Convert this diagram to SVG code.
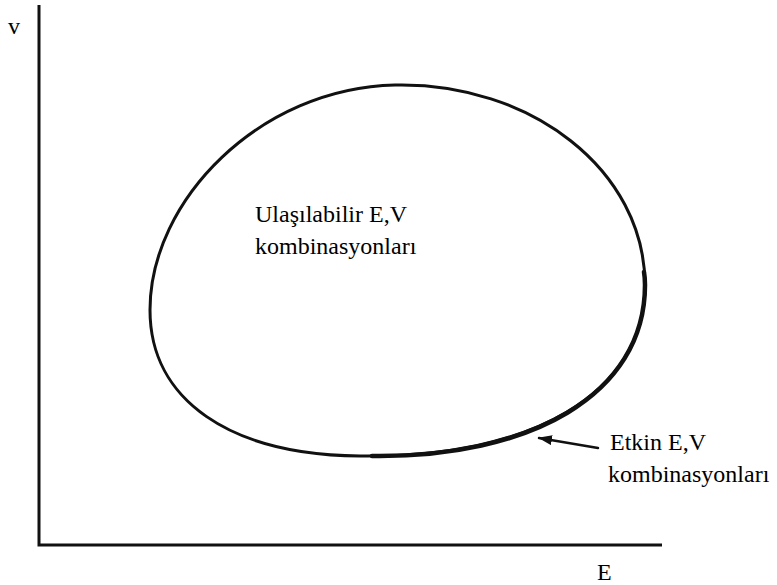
<svg xmlns="http://www.w3.org/2000/svg" width="777" height="585" viewBox="0 0 777 585">
<style>
.t{font-family:"Liberation Serif","Times New Roman",serif;font-size:24px;fill:#000}
.ax{stroke:#111;stroke-width:3;fill:none}
.ln{stroke:#111;fill:none;stroke-linecap:round}
</style>
<defs>
<marker id="ah" markerWidth="14" markerHeight="10" refX="13" refY="5" orient="auto" markerUnits="userSpaceOnUse">
<path d="M0,0 L14,5 L0,10 Z" fill="#111"/>
</marker>
</defs>
<rect width="777" height="585" fill="#fff"/>
<g id="axes">
<path class="ax" d="M39,5 V545 H662"/>
<text class="t" x="8" y="34">v</text>
<text class="t" x="597" y="580">E</text>
</g>
<g id="region">
<path class="ln" stroke-width="3" d="M150,310 C150,200 260,88 395,85 C530,82 645,170 645,285 C645,395 530,458 360,456 C230,455 150,400 150,310 Z"/>
<path class="ln" stroke-width="4.5" d="M644,272 C645,278 645,282 645,285 C645,395 530,458 372,456"/>
<text class="t" x="255" y="222">Ulaşılabilir E,V</text>
<text class="t" x="255" y="254">kombinasyonları</text>
</g>
<g id="efficient">
<text class="t" x="610" y="450">Etkin E,V</text>
<text class="t" x="608" y="482">kombinasyonları</text>
</g>
<g id="connectors">
<path class="ln" stroke-width="2.5" d="M598,448 L539,438" marker-end="url(#ah)"/>
</g>
</svg>
